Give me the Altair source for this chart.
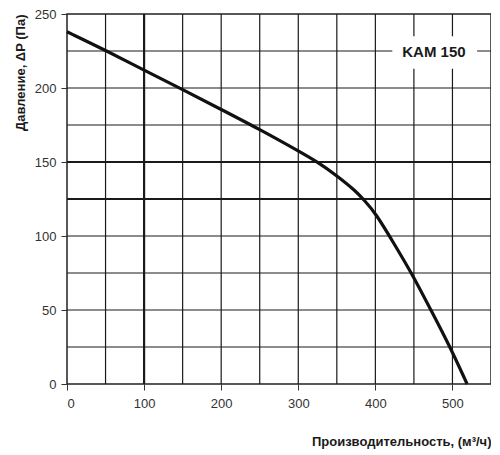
import altair as alt
import pandas as pd

# fan curve
flow = [0, 50, 100, 150, 200, 250, 300, 325, 350, 375, 384, 400, 424, 447, 472, 497, 519]
pressure = [238, 225.5, 212, 199, 185.5, 172, 157.5, 150, 140.8, 130.2, 125, 115.8, 95, 75, 50, 25, 0]

grid_x = [50, 100, 150, 200, 250, 300, 350, 400, 450, 500]
grid_y = [25, 50, 75, 100, 125, 150, 175, 200, 225]
heavy_x = [100]
heavy_y = [125, 150]

x_ticks = [0, 100, 200, 300, 400, 500]
y_ticks = [0, 50, 100, 150, 200, 250]

model = "KAM 150"
label_x = 476
label_y = 224
label_box_x = [422, 532]
label_box_y = [213, 235]

FONT = "Liberation Sans"
INK = "#1a1a1a"

x_scale = alt.Scale(domain=[0, 550], nice=False, zero=False)
y_scale = alt.Scale(domain=[0, 250], nice=False, zero=False)

x_axis = alt.Axis(
    values=x_ticks,
    format="d",
    grid=False,
    domain=False,
    tickSize=6,
    tickColor="#333333",
    labelFontSize=13,
    labelColor="#333333",
    labelPadding=7,
    labelFont=FONT,
    title="Производительность, (м³/ч)",
    titleFont=FONT,
    titleFontSize=13,
    titleFontWeight="bold",
    titleColor=INK,
    titleAnchor="end",
    titlePadding=25,
)
y_axis = alt.Axis(
    values=y_ticks,
    format="d",
    grid=False,
    domain=False,
    tickSize=6,
    tickColor="#333333",
    labelFontSize=13,
    labelColor="#333333",
    labelPadding=5,
    labelFont=FONT,
    title="Давление, ΔP (Па)",
    titleFont=FONT,
    titleFontSize=13,
    titleFontWeight="bold",
    titleColor=INK,
    titleAnchor="end",
    titlePadding=7,
)

curve_df = pd.DataFrame({"q": flow, "p": pressure})
gx_df = pd.DataFrame({"q": grid_x, "w": [2.2 if v in heavy_x else 1.2 for v in grid_x]})
gy_df = pd.DataFrame({"p": grid_y, "w": [2.2 if v in heavy_y else 1.2 for v in grid_y]})
box_df = pd.DataFrame({"q": [label_box_x[0]], "q2": [label_box_x[1]],
                       "p": [label_box_y[0]], "p2": [label_box_y[1]]})
text_df = pd.DataFrame({"q": [label_x], "p": [label_y], "t": [model]})

X = alt.X("q:Q", scale=x_scale, axis=x_axis)
Y = alt.Y("p:Q", scale=y_scale, axis=y_axis)

vlines = alt.Chart(gx_df).mark_rule(color=INK).encode(
    x=X,
    strokeWidth=alt.StrokeWidth("w:Q", scale=None),
)

hlines = alt.Chart(gy_df).mark_rule(color=INK).encode(
    y=Y,
    strokeWidth=alt.StrokeWidth("w:Q", scale=None),
)

box = alt.Chart(box_df).mark_rect(color="white").encode(
    x=X, x2="q2:Q", y=Y, y2="p2:Q",
)

label = alt.Chart(text_df).mark_text(
    font=FONT, fontSize=15, fontWeight="bold", color=INK
).encode(x=X, y=Y, text="t:N")

curve = alt.Chart(curve_df).mark_line(
    color="#111111", strokeWidth=3.2, interpolate="basis"
).encode(x=X, y=Y)

chart = (
    alt.layer(vlines, hlines, box, label, curve)
    .properties(
        width=424,
        height=370,
        autosize=alt.AutoSizeParams(type="none"),
        padding={"left": 59, "top": 6, "right": 0, "bottom": 66},
        background="white",
    )
    .configure_view(stroke="#222222", strokeWidth=1.5)
)

chart.save("out.html", embed_options={"renderer": "svg", "actions": False})
